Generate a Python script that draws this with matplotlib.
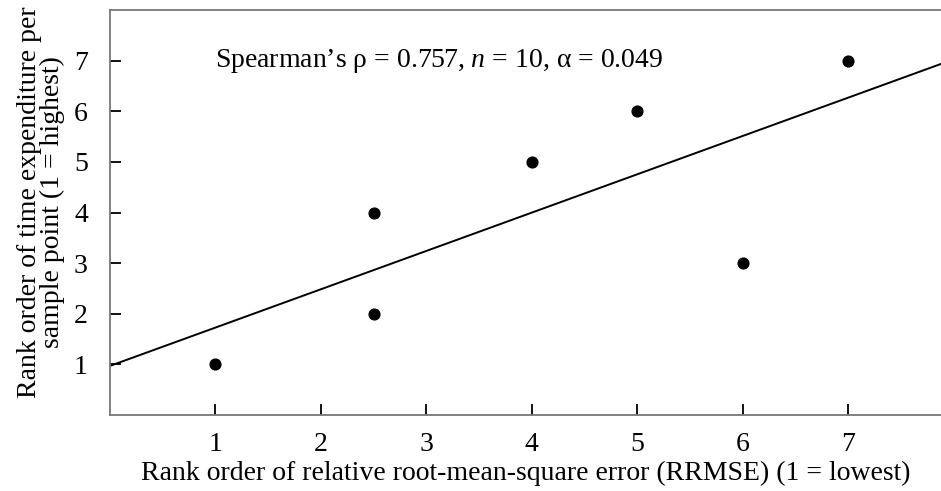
import numpy as np
import matplotlib
matplotlib.use("Agg")
import matplotlib.pyplot as plt

# ranks (tied points overlap, so only 7 dots show)
rrmse_rank = [1, 2.5, 2.5, 4, 5, 6, 7]
time_rank = [1, 2, 4, 5, 6, 3, 7]

# fitted line
intercept = 0.97
slope = 0.757

xticks = [1, 2, 3, 4, 5, 6, 7]
yticks = [1, 2, 3, 4, 5, 6, 7]


def main():
    plt.rcParams['font.family'] = ['Liberation Serif', 'DejaVu Serif']
    plt.rcParams['mathtext.fontset'] = 'custom'
    plt.rcParams['mathtext.rm'] = 'Liberation Serif'
    plt.rcParams['mathtext.it'] = 'Liberation Serif:italic'

    fig = plt.figure(figsize=(9.41, 4.91), dpi=100)
    ax = fig.add_axes([0.1169, 0.1548, 0.8831, 0.8248])

    ax.set_xlim(0, 7.88)
    ax.set_ylim(0, 8)

    xs = np.array(ax.get_xlim())
    ax.plot(xs, intercept + slope * xs, color='black', lw=1.4)
    ax.scatter(rrmse_rank, time_rank, s=60, color='black', zorder=3)

    ax.text(1.0, 7.0, r"Spearman’s ρ = 0.757, $\mathit{n}$ = 10, α = 0.049",
            fontsize=20, ha='left', va='center')

    ax.set_xticks(xticks)
    ax.set_yticks(yticks)
    ax.tick_params(direction='in', labelsize=20, color='black', width=1.3, length=8)
    ax.tick_params(axis='x', pad=12)
    ax.tick_params(axis='y', pad=16)

    ax.spines['right'].set_visible(False)
    for side in ['left', 'bottom', 'top']:
        ax.spines[side].set_color('#777777')
        ax.spines[side].set_linewidth(1.3)

    ax.set_xlabel('Rank order of relative root-mean-square error (RRMSE) (1 = lowest)',
                  fontsize=20, labelpad=3)
    ax.set_ylabel('Rank order of time expenditure per\nsample point (1 = highest)',
                  fontsize=20, linespacing=0.92)
    ax.yaxis.set_label_coords(-0.054, 0.525)

    plt.savefig('out.png', dpi=100)


if __name__ == "__main__":
    main()
